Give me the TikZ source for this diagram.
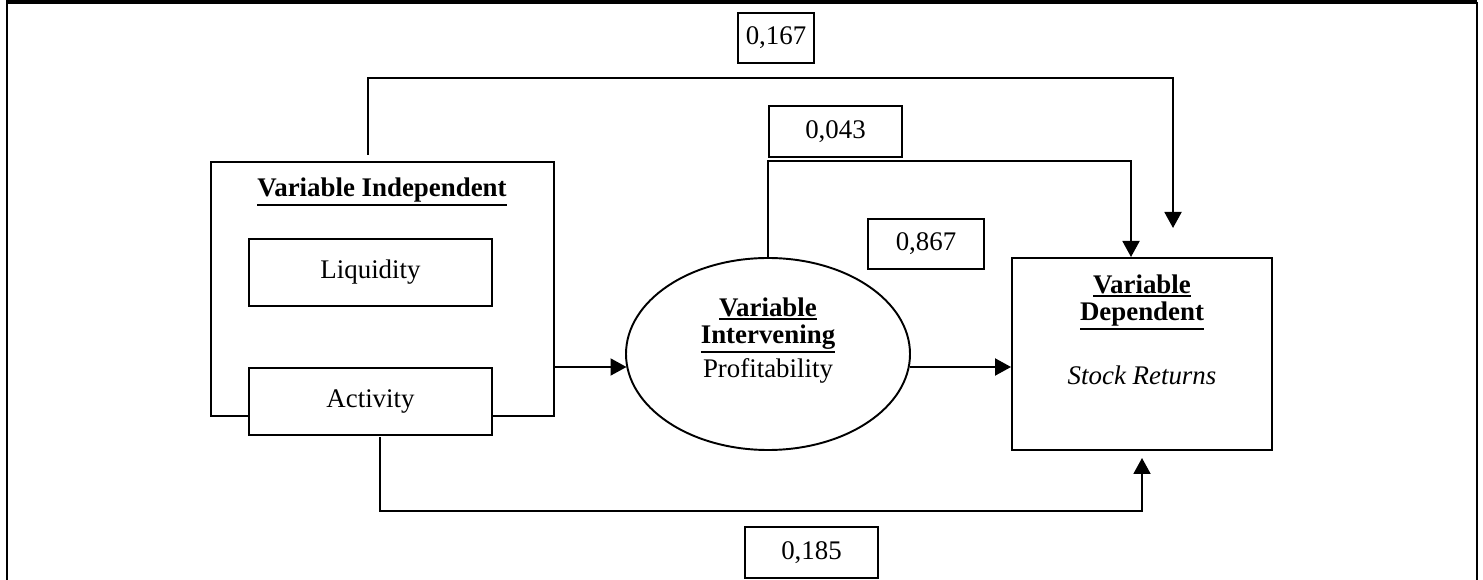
\documentclass[tikz,border=0pt]{standalone}
\usepackage{fontspec}
\setmainfont{Liberation Serif}
\usetikzlibrary{arrows.meta,shapes.geometric}
\newcommand{\myul}[1]{\leavevmode\vtop{\hbox{#1}\kern0.9pt\hrule height 1.3pt}}
\begin{document}
\begin{tikzpicture}[x=0.02cm,y=-0.02cm,
  every node/.style={font=\fontsize{15.3}{17.5}\selectfont, inner sep=0pt},
  box/.style={draw, line width=1.1pt, fill=white, align=center},
  conn/.style={line width=1.1pt},
  arr/.style={line width=1.1pt, -{Triangle[length=0.32cm,width=0.34cm]}},
  ttl/.style={font=\fontsize{15.3}{17.5}\selectfont\bfseries, align=center}
]
\useasboundingbox (0,0) rectangle (1483,580);
% frame
\draw[line width=2.6pt] (6,2) -- (1477,2);
\draw[line width=1.2pt] (7,2) -- (7,580);
\draw[line width=1.2pt] (1477,2) -- (1477,580);

% independent group
\node[box, minimum width={343*0.02cm}, minimum height={254*0.02cm}] (indep) at (382.5,289) {};
\node[ttl] (indepT) at (382,192) {\myul{Variable Independent}};
\node[box, minimum width={243*0.02cm}, minimum height={67*0.02cm}] (liq) at (370.5,272.5) {Liquidity};
\node[box, minimum width={243*0.02cm}, minimum height={67*0.02cm}] (act) at (370.5,401.5) {Activity};

% intervening
\node[draw, ellipse, line width=1.1pt, minimum width={284*0.02cm}, minimum height={192*0.02cm}] (ell) at (768,354) {};
\node[ttl] (ellT1) at (768,309) {\myul{Variable}};
\node[ttl] (ellT2) at (768,339) {\myul{Intervening}};
\node (ellT3) at (768,371) {Profitability};

% dependent
\node[box, minimum width={260*0.02cm}, minimum height={192*0.02cm}] (dep) at (1142,354) {};
\node[ttl] (depT1) at (1142,286) {\myul{Variable}};
\node[ttl] (depT2) at (1142,316) {\myul{Dependent}};
\node (depT3) at (1142,375) {\itshape Stock Returns};

% coefficient boxes
\node[box, minimum width={76*0.02cm}, minimum height={50*0.02cm}] (b167) at (776,38) {0,167};
\node[box, minimum width={133*0.02cm}, minimum height={51*0.02cm}] (b043) at (835.5,131.5) {0,043};
\node[box, minimum width={116*0.02cm}, minimum height={50*0.02cm}] (b867) at (926,244) {0,867};
\node[box, minimum width={133*0.02cm}, minimum height={51*0.02cm}] (b185) at (811.5,552.5) {0,185};

% connectors
\coordinate (t0) at (368,155);
\coordinate (t1) at (1173,228);
\draw[arr] (t0) -- (368,78) -| (t1);

\coordinate (d1) at (1131,257);
\draw[arr] (ell.north) -- ++(0,-96) -| (d1);

\draw[arr] (indep.east |- 0,367) -- (626.5,367);
\draw[arr] (910,367) -- (dep.west |- 0,367);

\coordinate (b0) at (380,437);
\coordinate (b1) at (1142,458);
\draw[arr] (b0) |- (1142,511) -- (b1);
\end{tikzpicture}
\end{document}
